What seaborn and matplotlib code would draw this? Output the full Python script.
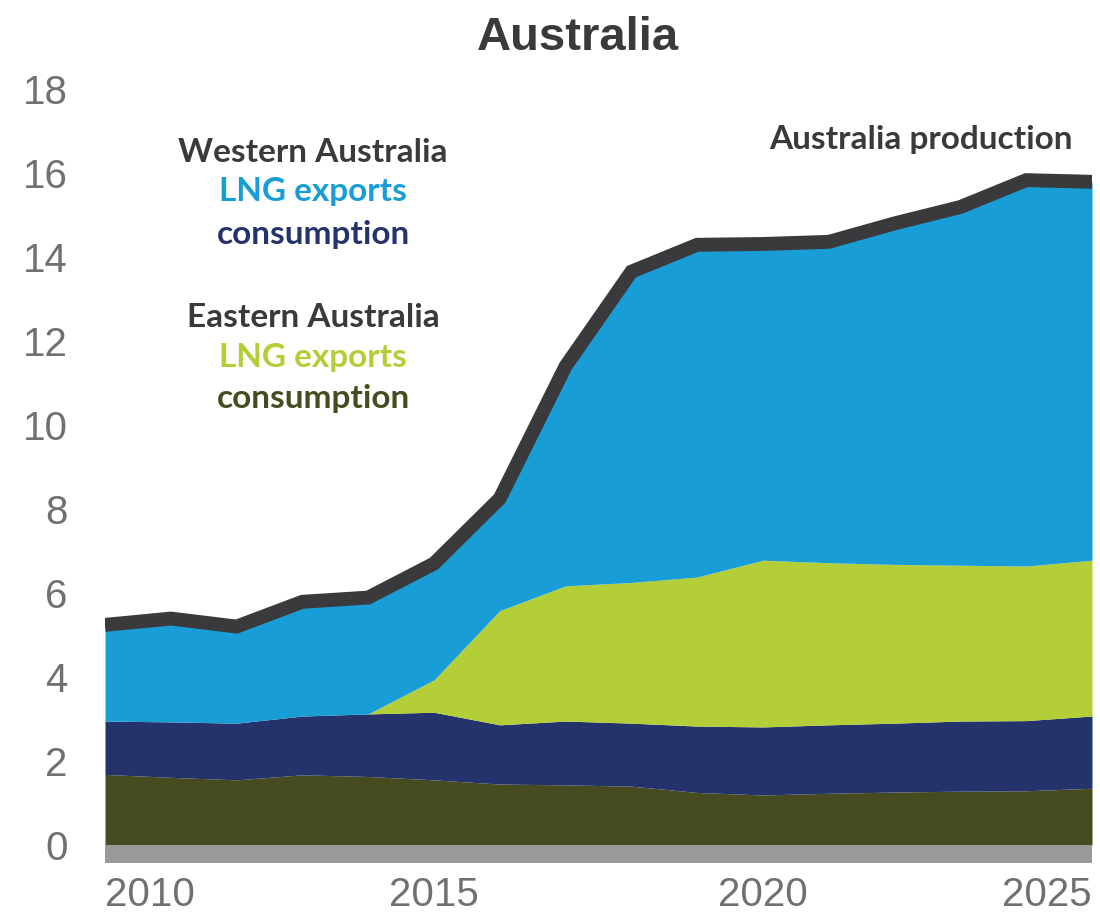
import numpy as np
import pandas as pd
import matplotlib
matplotlib.use("Agg")
import matplotlib.pyplot as plt
from matplotlib import font_manager as fm
import seaborn as sns

# Annual gas balance, Australia (stacked components)
years = list(range(2010, 2026))
east_consumption = [1.68, 1.61, 1.55, 1.67, 1.63, 1.55, 1.45, 1.43, 1.40, 1.25, 1.19, 1.23, 1.26, 1.28, 1.29, 1.35]
west_consumption = [1.27, 1.32, 1.35, 1.40, 1.49, 1.61, 1.41, 1.52, 1.50, 1.58, 1.62, 1.63, 1.64, 1.67, 1.67, 1.72]
east_lng_exports = [0.00, 0.00, 0.00, 0.00, 0.00, 0.77, 2.72, 3.22, 3.35, 3.55, 3.97, 3.86, 3.78, 3.71, 3.68, 3.71]
west_lng_exports = [2.29, 2.46, 2.30, 2.72, 2.77, 2.77, 2.67, 5.23, 7.40, 7.91, 7.53, 7.64, 8.12, 8.53, 9.19, 9.01]

y_ticks = [0, 2, 4, 6, 8, 10, 12, 14, 16, 18]
x_ticks = [2010, 2015, 2020, 2025]

C_OLIVE = "#464B20"
C_NAVY = "#24336C"
C_LIME = "#B3CE37"
C_BLUE = "#189DD7"
C_LINE = "#3A3A3C"
C_BAND = "#999999"
C_TICK = "#707070"

df = pd.DataFrame({
    "year": years,
    "east_cons": east_consumption,
    "west_cons": west_consumption,
    "east_lng": east_lng_exports,
    "west_lng": west_lng_exports,
})
df["production"] = df[["east_cons", "west_cons", "east_lng", "west_lng"]].sum(axis=1)

sns.set_theme(style="white")
available = {f.name for f in fm.fontManager.ttflist}
label_family = "Lato" if "Lato" in available else "DejaVu Sans"
plt.rcParams["font.family"] = ["Liberation Sans", "DejaVu Sans"]

W, H = 1100, 922
fig = plt.figure(figsize=(W / 100, H / 100), dpi=100)
ax = fig.add_axes([105 / W, 1 - 863 / H, (1092 - 105) / W, (863 - 76.4) / H])

ax.stackplot(
    df["year"],
    df["east_cons"], df["west_cons"], df["east_lng"], df["west_lng"],
    colors=[C_OLIVE, C_NAVY, C_LIME, C_BLUE],
    linewidth=0,
)
# base band under the zero line
ax.fill_between(df["year"], -0.43, 0, color=C_BAND, linewidth=0)

sns.lineplot(data=df, x="year", y="production", ax=ax, color=C_LINE,
             linewidth=10, solid_capstyle="butt", solid_joinstyle="miter")

ax.set_xlim(2010, 2025)
ax.set_ylim(-0.43, 18.3)
ax.set_yticks(y_ticks)
ax.set_xticks(x_ticks)
ax.set_xlabel("")
ax.set_ylabel("")
for s in ax.spines.values():
    s.set_visible(False)
ax.tick_params(axis="both", length=0, colors=C_TICK)
ax.tick_params(axis="y", pad=27)
ax.tick_params(axis="x", pad=9)
for lab in ax.get_xticklabels() + ax.get_yticklabels():
    lab.set_fontfamily("Liberation Sans")
    lab.set_fontsize(29)
    lab.set_color(C_TICK)
xl = ax.get_xticklabels()
xl[0].set_ha("left")
xl[-1].set_ha("right")
ax.grid(False)


def fx(px):
    return px / W


def fy(py):
    return 1 - py / H


fig.text(fx(578), fy(50), "Australia", ha="center", va="baseline",
         fontsize=34, fontweight="bold", color=C_LINE, family="Liberation Sans")

lbl = dict(ha="center", va="baseline", fontsize=24, fontweight="bold", family=label_family)
fig.text(fx(313), fy(162), "Western Australia", color=C_LINE, **lbl)
fig.text(fx(313), fy(201), "LNG exports", color=C_BLUE, **lbl)
fig.text(fx(313), fy(244), "consumption", color=C_NAVY, **lbl)
fig.text(fx(313), fy(327), "Eastern Australia", color=C_LINE, **lbl)
fig.text(fx(313), fy(367), "LNG exports", color=C_LIME, **lbl)
fig.text(fx(313), fy(408), "consumption", color=C_OLIVE, **lbl)
fig.text(fx(1073), fy(149), "Australia production", color=C_LINE,
         ha="right", va="baseline", fontsize=24, fontweight="bold", family=label_family)

fig.savefig("out.png", dpi=100, facecolor="white")
